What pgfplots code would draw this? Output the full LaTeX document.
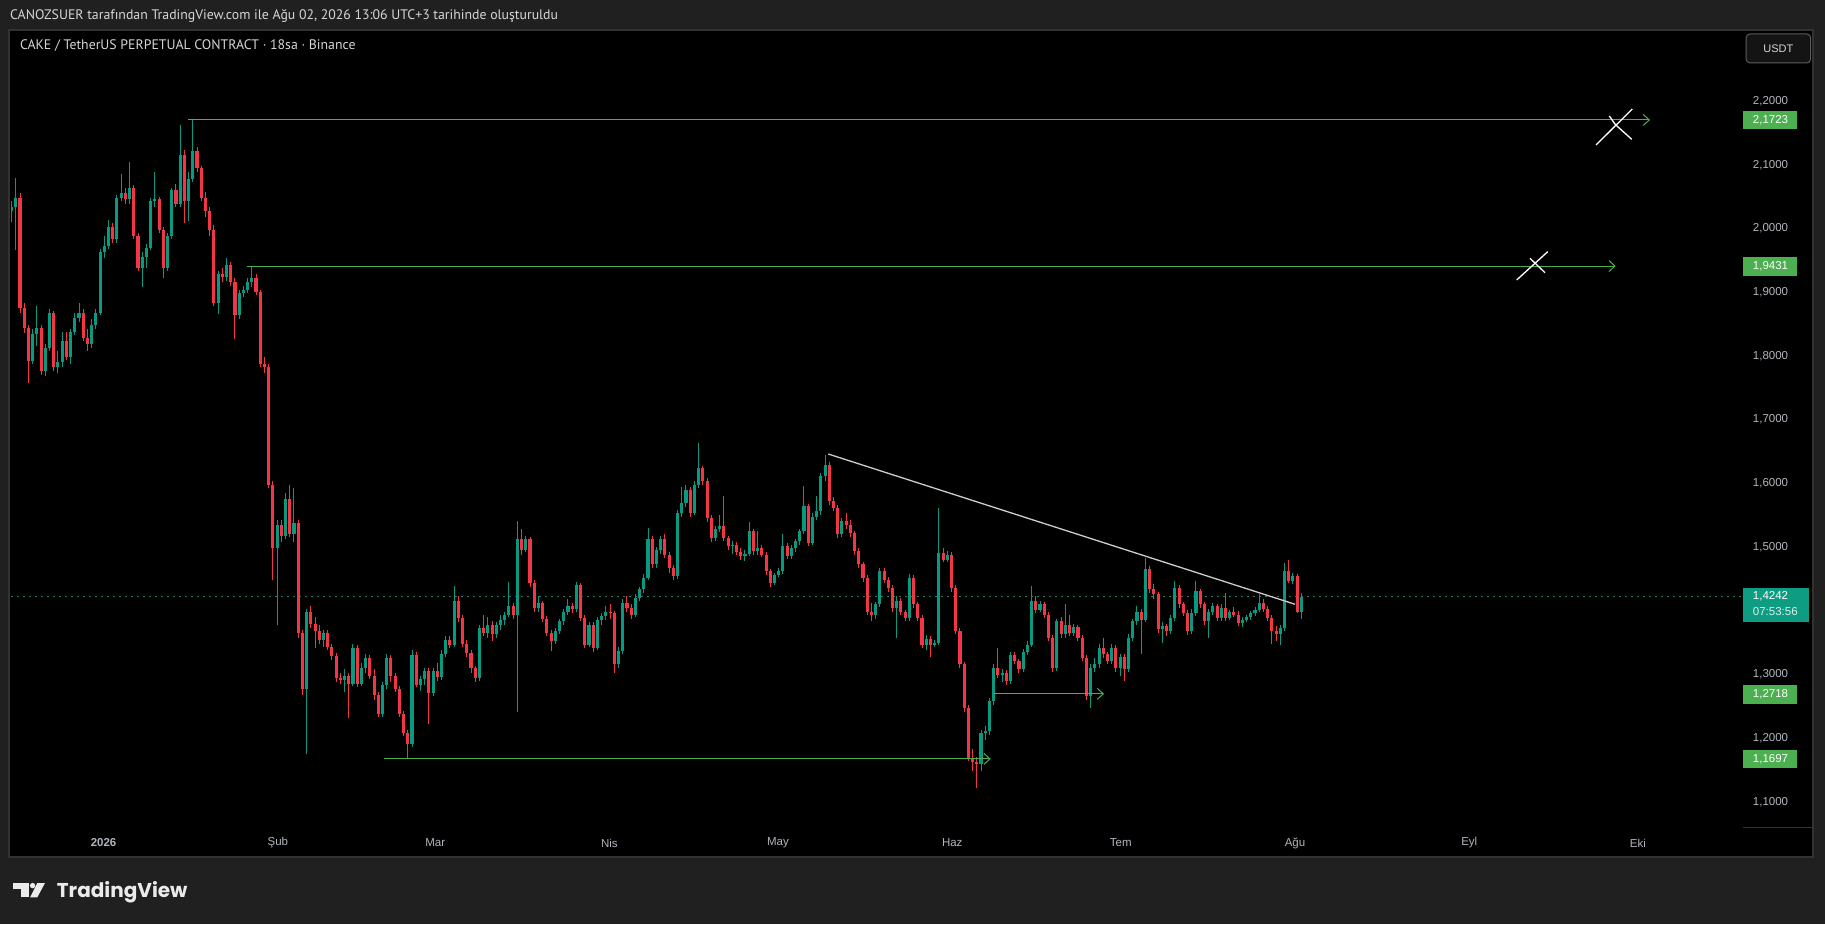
\documentclass[border=0pt]{standalone}
\usepackage{fontspec}
\setmainfont{PT Sans}
\newfontfamily\numfont{Liberation Sans}
\newfontfamily\logofont{Poppins}
\usepackage{pgfplots}
\pgfplotsset{compat=1.18}
\usepackage{pgfplotstable}
\usetikzlibrary{arrows.meta}

\definecolor{bg}{RGB}{32,32,32}
\definecolor{panelborder}{RGB}{50,50,50}
\definecolor{tvup}{RGB}{8,153,129}
\definecolor{tvdown}{RGB}{242,54,69}
\definecolor{tvlabel}{RGB}{76,175,80}
\definecolor{tvtext}{RGB}{178,181,190}
\definecolor{tvlast}{RGB}{14,156,131}
\definecolor{lastline}{RGB}{45,125,105}
\definecolor{trend}{RGB}{205,205,205}
\definecolor{hdr}{RGB}{214,214,214}

% 18h candles, o h l c (CAKE/USDT perp)
\pgfplotstableread{
o h l c
2.030 2.045 2.012 2.036
2.036 2.081 1.969 2.050
2.050 2.058 1.870 1.877
1.877 1.885 1.838 1.846
1.846 1.850 1.760 1.794
1.794 1.845 1.790 1.836
1.836 1.880 1.818 1.846
1.846 1.850 1.772 1.778
1.778 1.820 1.770 1.815
1.815 1.876 1.810 1.870
1.870 1.872 1.778 1.785
1.785 1.810 1.775 1.792
1.792 1.840 1.785 1.825
1.825 1.840 1.795 1.800
1.800 1.845 1.790 1.840
1.840 1.870 1.835 1.862
1.862 1.885 1.855 1.870
1.870 1.875 1.825 1.830
1.830 1.845 1.810 1.820
1.820 1.860 1.815 1.850
1.850 1.875 1.845 1.870
1.870 1.970 1.866 1.965
1.965 1.990 1.955 1.975
1.975 2.015 1.970 2.005
2.005 2.010 1.980 1.985
1.985 2.055 1.980 2.050
2.050 2.087 2.045 2.058
2.058 2.065 2.040 2.048
2.048 2.107 2.040 2.066
2.066 2.070 1.985 1.990
1.990 1.995 1.935 1.940
1.940 1.965 1.910 1.958
1.958 1.978 1.940 1.972
1.972 2.050 1.968 2.045
2.045 2.090 2.035 2.048
2.048 2.052 1.995 2.000
2.000 2.005 1.925 1.940
1.940 1.995 1.935 1.990
1.990 2.065 1.985 2.062
2.062 2.072 2.035 2.040
2.040 2.165 2.035 2.118
2.118 2.125 2.010 2.045
2.045 2.090 2.013 2.080
2.080 2.1723 2.075 2.124
2.124 2.130 2.090 2.097
2.097 2.100 2.045 2.050
2.050 2.060 2.020 2.030
2.030 2.035 1.990 2.000
2.000 2.008 1.880 1.885
1.885 1.935 1.868 1.930
1.930 1.940 1.918 1.926
1.926 1.955 1.920 1.945
1.945 1.950 1.912 1.918
1.918 1.925 1.828 1.867
1.867 1.905 1.860 1.900
1.900 1.912 1.895 1.906
1.906 1.925 1.900 1.918
1.918 1.9431 1.910 1.925
1.925 1.930 1.898 1.903
1.903 1.906 1.785 1.790
1.790 1.800 1.775 1.785
1.785 1.790 1.595 1.600
1.600 1.605 1.450 1.500
1.500 1.545 1.380 1.536
1.536 1.545 1.510 1.520
1.520 1.587 1.515 1.577
1.577 1.600 1.518 1.522
1.522 1.595 1.510 1.540
1.540 1.545 1.360 1.367
1.367 1.372 1.270 1.280
1.280 1.405 1.178 1.400
1.400 1.410 1.375 1.382
1.382 1.392 1.344 1.370
1.370 1.380 1.350 1.356
1.356 1.372 1.345 1.367
1.367 1.372 1.340 1.345
1.345 1.350 1.325 1.331
1.331 1.336 1.290 1.297
1.297 1.305 1.288 1.293
1.293 1.310 1.275 1.300
1.300 1.305 1.234 1.288
1.288 1.350 1.284 1.344
1.344 1.348 1.282 1.288
1.288 1.320 1.284 1.312
1.312 1.335 1.305 1.328
1.328 1.333 1.295 1.300
1.300 1.310 1.262 1.270
1.270 1.275 1.235 1.240
1.240 1.290 1.236 1.286
1.286 1.335 1.280 1.328
1.328 1.332 1.290 1.300
1.300 1.305 1.275 1.280
1.280 1.284 1.235 1.240
1.240 1.245 1.205 1.210
1.210 1.215 1.1697 1.193
1.193 1.340 1.188 1.333
1.333 1.338 1.282 1.286
1.286 1.300 1.276 1.295
1.295 1.312 1.285 1.307
1.307 1.312 1.224 1.273
1.273 1.312 1.268 1.307
1.307 1.320 1.292 1.298
1.298 1.340 1.294 1.335
1.335 1.362 1.330 1.357
1.357 1.362 1.343 1.349
1.349 1.441 1.345 1.417
1.417 1.425 1.385 1.391
1.391 1.395 1.345 1.350
1.350 1.356 1.330 1.336
1.336 1.340 1.305 1.312
1.312 1.316 1.290 1.297
1.297 1.380 1.292 1.375
1.375 1.396 1.362 1.368
1.368 1.392 1.360 1.380
1.380 1.386 1.355 1.365
1.365 1.385 1.360 1.380
1.380 1.395 1.372 1.388
1.388 1.400 1.380 1.396
1.396 1.448 1.392 1.409
1.409 1.415 1.390 1.396
1.396 1.543 1.244 1.514
1.514 1.530 1.490 1.498
1.498 1.520 1.494 1.514
1.514 1.518 1.440 1.445
1.445 1.450 1.400 1.406
1.406 1.425 1.400 1.414
1.414 1.418 1.385 1.390
1.390 1.394 1.362 1.367
1.367 1.372 1.339 1.354
1.354 1.375 1.350 1.370
1.370 1.390 1.365 1.386
1.386 1.405 1.380 1.401
1.401 1.420 1.396 1.410
1.410 1.415 1.398 1.405
1.405 1.448 1.400 1.443
1.443 1.446 1.386 1.391
1.391 1.395 1.343 1.349
1.349 1.385 1.345 1.380
1.380 1.384 1.338 1.344
1.344 1.392 1.340 1.388
1.388 1.398 1.380 1.394
1.394 1.410 1.388 1.401
1.401 1.412 1.390 1.398
1.398 1.402 1.305 1.318
1.318 1.345 1.312 1.339
1.339 1.420 1.335 1.414
1.414 1.425 1.400 1.406
1.406 1.412 1.390 1.396
1.396 1.428 1.392 1.422
1.422 1.440 1.418 1.436
1.436 1.460 1.430 1.454
1.454 1.532 1.450 1.514
1.514 1.520 1.470 1.475
1.475 1.502 1.470 1.498
1.498 1.520 1.492 1.514
1.514 1.522 1.485 1.490
1.490 1.495 1.462 1.470
1.470 1.474 1.450 1.456
1.456 1.560 1.452 1.556
1.556 1.597 1.550 1.572
1.572 1.600 1.565 1.592
1.592 1.596 1.550 1.556
1.556 1.605 1.552 1.600
1.600 1.665 1.595 1.626
1.626 1.630 1.600 1.605
1.605 1.610 1.542 1.548
1.548 1.552 1.510 1.516
1.516 1.535 1.512 1.530
1.530 1.553 1.525 1.535
1.535 1.582 1.512 1.516
1.516 1.520 1.498 1.503
1.503 1.512 1.492 1.506
1.506 1.510 1.490 1.495
1.495 1.500 1.482 1.488
1.488 1.498 1.480 1.492
1.492 1.542 1.488 1.527
1.527 1.531 1.490 1.496
1.496 1.527 1.490 1.501
1.501 1.506 1.486 1.490
1.490 1.494 1.458 1.464
1.464 1.468 1.440 1.446
1.446 1.462 1.442 1.459
1.459 1.470 1.455 1.464
1.464 1.522 1.460 1.503
1.503 1.508 1.484 1.488
1.488 1.505 1.484 1.500
1.500 1.515 1.495 1.511
1.511 1.530 1.506 1.527
1.527 1.5975 1.522 1.566
1.566 1.570 1.503 1.509
1.509 1.555 1.505 1.550
1.550 1.582 1.545 1.558
1.558 1.618 1.552 1.613
1.613 1.646 1.605 1.631
1.631 1.636 1.568 1.574
1.574 1.580 1.558 1.564
1.564 1.568 1.516 1.522
1.522 1.548 1.518 1.543
1.543 1.556 1.530 1.536
1.536 1.545 1.518 1.524
1.524 1.528 1.490 1.496
1.496 1.500 1.470 1.475
1.475 1.478 1.448 1.454
1.454 1.458 1.396 1.401
1.401 1.415 1.386 1.396
1.396 1.416 1.390 1.412
1.412 1.470 1.408 1.464
1.464 1.470 1.446 1.451
1.451 1.455 1.432 1.438
1.438 1.442 1.401 1.407
1.407 1.425 1.360 1.418
1.418 1.422 1.395 1.400
1.400 1.404 1.386 1.391
1.391 1.460 1.386 1.454
1.454 1.458 1.406 1.412
1.412 1.416 1.386 1.391
1.391 1.395 1.343 1.349
1.349 1.364 1.340 1.358
1.358 1.362 1.330 1.349
1.349 1.356 1.345 1.352
1.352 1.563 1.348 1.493
1.493 1.500 1.478 1.482
1.482 1.496 1.478 1.490
1.490 1.494 1.432 1.438
1.438 1.442 1.365 1.370
1.370 1.375 1.312 1.318
1.318 1.322 1.244 1.250
1.250 1.255 1.166 1.171
1.171 1.185 1.150 1.165
1.165 1.172 1.124 1.161
1.161 1.215 1.150 1.210
1.210 1.222 1.200 1.213
1.213 1.265 1.208 1.260
1.260 1.318 1.255 1.312
1.312 1.344 1.296 1.302
1.302 1.310 1.290 1.305
1.305 1.309 1.285 1.292
1.292 1.338 1.288 1.333
1.333 1.337 1.318 1.323
1.323 1.327 1.305 1.310
1.310 1.342 1.306 1.338
1.338 1.354 1.333 1.349
1.349 1.441 1.345 1.417
1.417 1.425 1.398 1.403
1.403 1.418 1.400 1.412
1.412 1.416 1.391 1.396
1.396 1.400 1.354 1.360
1.360 1.364 1.306 1.312
1.312 1.390 1.308 1.386
1.386 1.392 1.360 1.365
1.365 1.412 1.360 1.380
1.380 1.396 1.362 1.367
1.367 1.382 1.362 1.376
1.376 1.380 1.355 1.360
1.360 1.364 1.323 1.328
1.328 1.332 1.262 1.268
1.268 1.318 1.250 1.312
1.312 1.328 1.306 1.318
1.318 1.350 1.313 1.344
1.344 1.360 1.328 1.334
1.334 1.338 1.318 1.323
1.323 1.350 1.318 1.344
1.344 1.348 1.306 1.312
1.312 1.335 1.300 1.330
1.330 1.334 1.292 1.310
1.310 1.365 1.306 1.360
1.360 1.390 1.355 1.386
1.386 1.410 1.380 1.401
1.401 1.405 1.335 1.388
1.388 1.485 1.384 1.467
1.467 1.472 1.430 1.436
1.436 1.444 1.420 1.428
1.428 1.432 1.368 1.373
1.373 1.385 1.352 1.378
1.378 1.382 1.362 1.370
1.370 1.395 1.365 1.391
1.391 1.449 1.386 1.438
1.438 1.442 1.406 1.412
1.412 1.416 1.394 1.399
1.399 1.403 1.364 1.370
1.370 1.405 1.366 1.398
1.398 1.449 1.394 1.433
1.433 1.437 1.406 1.412
1.412 1.416 1.380 1.386
1.386 1.405 1.360 1.401
1.401 1.414 1.396 1.409
1.409 1.413 1.386 1.391
1.391 1.412 1.386 1.407
1.407 1.430 1.386 1.391
1.391 1.404 1.387 1.400
1.400 1.408 1.392 1.396
1.396 1.402 1.378 1.383
1.383 1.392 1.376 1.388
1.388 1.396 1.384 1.392
1.392 1.402 1.388 1.399
1.399 1.408 1.394 1.404
1.404 1.428 1.400 1.415
1.415 1.420 1.400 1.405
1.405 1.409 1.386 1.391
1.391 1.395 1.350 1.370
1.370 1.378 1.355 1.365
1.365 1.380 1.349 1.375
1.375 1.477 1.370 1.464
1.464 1.482 1.445 1.449
1.449 1.462 1.444 1.456
1.456 1.460 1.398 1.401
1.401 1.430 1.390 1.4242
}\candles

\pgfplotsset{
  candle/.style={only marks, mark=none, mark size=0pt,
    mark options={draw=none, fill=none}, forget plot,
    error bars/y dir=minus, error bars/y explicit, error bars/error mark=none},
}

\begin{document}
\begin{tikzpicture}[x=1pt,y=1pt]
% page and chart panel (1 unit = 1 px of the reference)
\fill[bg] (0,0) rectangle (1825,924);
\fill[black] (9,67) rectangle (1813,894);
\draw[panelborder, line width=1.5pt] (9,67) rectangle (1813,894);
\draw[panelborder, line width=1pt] (1743,97) -- (1813,97);

\node[anchor=west, inner sep=0, text=hdr, font=\fontsize{13.8}{15}\selectfont]
  at (10,908) {CANOZSUER tarafından TradingView.com ile Ağu 02, 2026 13:06 UTC+3 tarihinde oluşturuldu};
\node[anchor=west, inner sep=0, text=hdr, font=\fontsize{13.8}{15}\selectfont]
  at (19.8,878) {CAKE / TetherUS PERPETUAL CONTRACT · 18sa · Binance};

\begin{axis}[
  at={(11pt,97pt)}, anchor=south west,
  scale only axis, width=1732pt, height=797pt,
  xmin=-16.477, xmax=291.71,
  ymin=1.06286, ymax=2.31345,
  axis line style={draw=none}, tick style={draw=none}, major tick length=0pt,
  no markers, scaled ticks=false,
  xtick={0,31,59,90,120,151,181,212,243,273},
  xticklabels={\textbf{2026},Şub,Mar,Nis,May,Haz,Tem,Ağu,Eyl,Eki},
  x tick label style={anchor=center, inner sep=0pt, yshift=-16pt, text=tvtext,
    font=\numfont\fontsize{11.5}{13}\selectfont},
  yticklabel pos=right,
  ytick={1.1,1.2,1.3,1.5,1.6,1.7,1.8,1.9,2.0,2.1,2.2},
  y tick label style={anchor=west, inner sep=0pt, xshift=9.7pt, yshift=1.3pt, text=tvtext,
    font=\numfont\fontsize{11.5}{13}\selectfont,
    /pgf/number format/fixed, /pgf/number format/fixed zerofill,
    /pgf/number format/precision=4, /pgf/number format/use comma,
    /pgf/number format/assume math mode=true},
]
% last price line
\addplot[lastline, line width=1pt, dash pattern=on 1.5pt off 4.5pt]
  coordinates {(-16.477,1.4242) (291.71,1.4242)};

% wicks
\addplot[tvup, candle, restrict expr to domain={\thisrow{c}-\thisrow{o}}{0:1},
  error bars/error bar style={line width=1pt, tvup}]
  table[x expr=\coordindex*0.75-16.375, y=h, y error minus expr=\thisrow{h}-\thisrow{l}] {\candles};
\addplot[tvdown, candle, restrict expr to domain={\thisrow{o}-\thisrow{c}}{0.00001:1},
  error bars/error bar style={line width=1pt, tvdown}]
  table[x expr=\coordindex*0.75-16.375, y=h, y error minus expr=\thisrow{h}-\thisrow{l}] {\candles};
% bodies
\addplot[tvup, candle, restrict expr to domain={\thisrow{c}-\thisrow{o}}{0:1},
  error bars/error bar style={line width=3.1pt, tvup}]
  table[x expr=\coordindex*0.75-16.375, y=c, y error minus expr=\thisrow{c}-\thisrow{o}] {\candles};
\addplot[tvdown, candle, restrict expr to domain={\thisrow{o}-\thisrow{c}}{0.00001:1},
  error bars/error bar style={line width=3.1pt, tvdown}]
  table[x expr=\coordindex*0.75-16.375, y=o, y error minus expr=\thisrow{o}-\thisrow{c}] {\candles};

% horizontal levels
\addplot[tvlabel, line width=1pt, -{Straight Barb[length=6pt,width=11pt]}]
  coordinates {(15.07,2.1723) (275.16,2.1723)};
\addplot[tvlabel, line width=1pt, -{Straight Barb[length=6pt,width=11pt]}]
  coordinates {(25.46,1.9431) (269.06,1.9431)};
\addplot[tvlabel, line width=1pt, -{Straight Barb[length=6pt,width=11pt]}]
  coordinates {(49.95,1.1697) (157.85,1.1697)};
\addplot[tvlabel, line width=1pt, -{Straight Barb[length=6pt,width=11pt]}]
  coordinates {(158.49,1.2718) (178.01,1.2718)};
% trend line
\addplot[trend, line width=1.3pt] coordinates {(128.95,1.6481) (212.01,1.4123)};
% crosses
\addplot[white, line width=1.3pt] coordinates {(265.55,2.133) (272.01,2.1895)};
\addplot[white, line width=1.3pt] coordinates {(267.92,2.1785) (269.0,2.165) (271.91,2.1419)};
\addplot[white, line width=1.3pt] coordinates {(251.44,1.9212) (256.96,1.9656)};
\addplot[white, line width=1.3pt] coordinates {(253.81,1.9552) (256.48,1.9326)};
\end{axis}

% price scale labels
\begin{scope}[every node/.style={anchor=west, inner sep=0, text=white,
    font=\numfont\fontsize{11.5}{13}\selectfont}]
\fill[tvlabel] (1743,794.7) rectangle (1797,813.3);
\node at (1752.7,804) {2,1723};
\fill[tvlabel] (1743,648) rectangle (1797,667);
\node at (1752.7,657.5) {1,9431};
\fill[tvlabel] (1743,220) rectangle (1797,239);
\node at (1752.7,229.5) {1,2718};
\fill[tvlabel] (1743,156) rectangle (1797,174);
\node at (1752.7,165) {1,1697};
\fill[tvlast] (1742.7,302) rectangle (1809.3,336);
\node at (1752.7,327.3) {1,4242};
\node[text=white!85!tvlast] at (1752.7,312.3) {07:53:56};
\end{scope}

% currency button
\draw[panelborder!80!white, fill=black!92!white, line width=1pt, rounded corners=4pt]
  (1746,861) rectangle (1810.7,890);
\node[text=hdr, font=\numfont\fontsize{11}{13}\selectfont] at (1778.3,875.5) {USDT};

% TradingView logo
\fill[white!92!black] (13.3,41) rectangle (29.3,35.3);
\fill[white!92!black] (20.7,41) rectangle (29.3,26.7);
\fill[white!92!black] (32.6,38.4) circle (2.7);
\fill[white!92!black] (37.3,41) -- (45,41) -- (37.3,26.7) -- (30.2,26.7) -- cycle;
\node[anchor=base west, inner sep=0, text=white!92!black, font=\logofont\bfseries\fontsize{20}{24}\selectfont]
  at (56.7,26.7) {TradingView};
\end{tikzpicture}
\end{document}
